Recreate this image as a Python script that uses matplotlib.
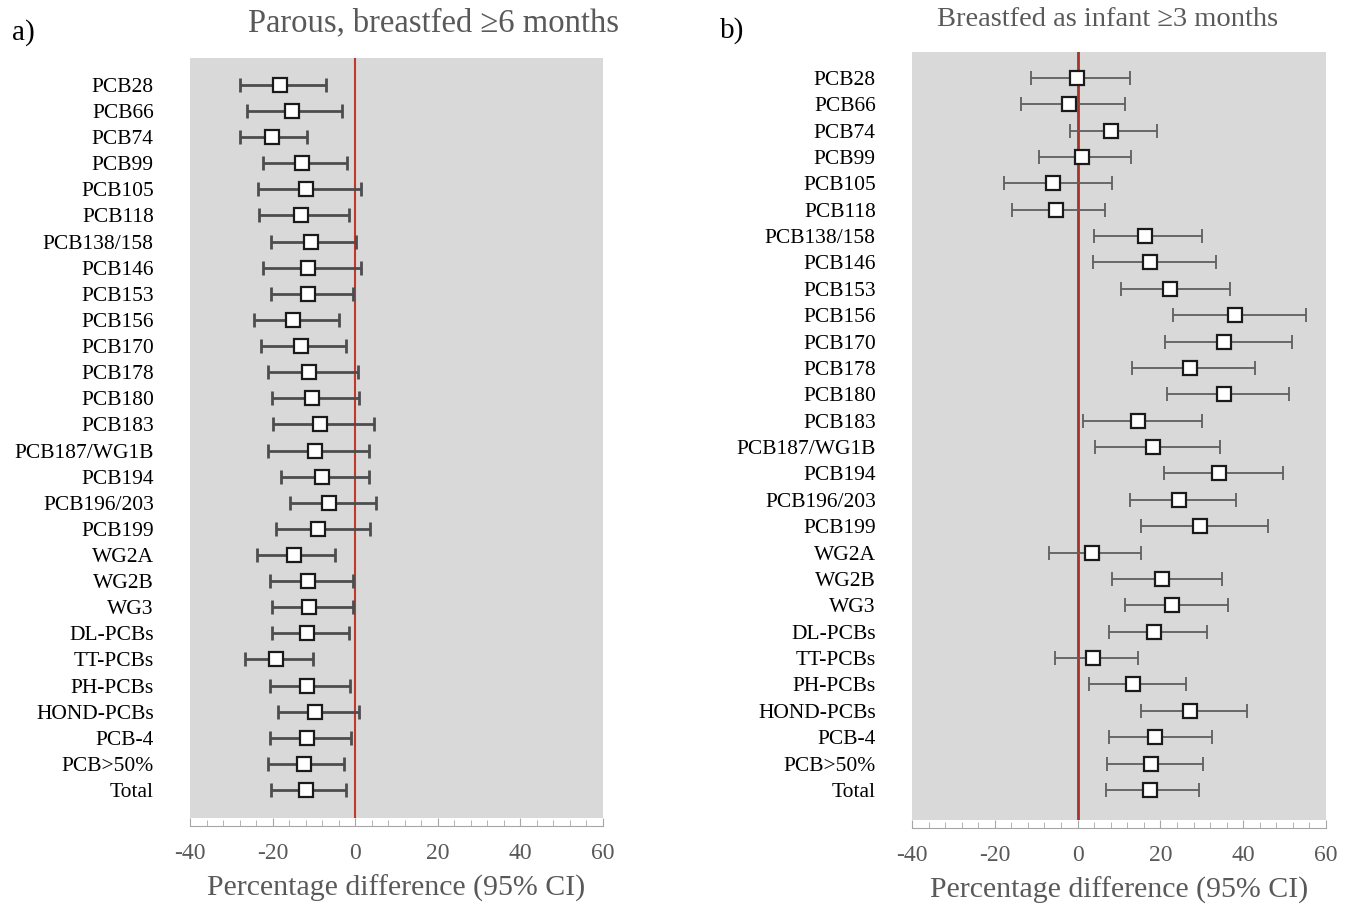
import matplotlib
matplotlib.use('Agg')
import matplotlib.pyplot as plt
from matplotlib.ticker import MultipleLocator

plt.rcParams['font.family'] = ['Liberation Serif', 'DejaVu Serif']
plt.rcParams['axes.unicode_minus'] = False

labels = ['PCB28', 'PCB66', 'PCB74', 'PCB99', 'PCB105', 'PCB118', 'PCB138/158',
          'PCB146', 'PCB153', 'PCB156', 'PCB170', 'PCB178', 'PCB180', 'PCB183',
          'PCB187/WG1B', 'PCB194', 'PCB196/203', 'PCB199', 'WG2A', 'WG2B', 'WG3',
          'DL-PCBs', 'TT-PCBs', 'PH-PCBs', 'HOND-PCBs', 'PCB-4', 'PCB>50%', 'Total']

# a) Parous, breastfed >=6 months
a_est = [-18.3, -15.3, -20.1, -12.9, -12.0, -13.2, -10.7, -11.4, -11.4, -15.1,
         -13.2, -11.1, -10.4, -8.6, -9.8, -8.0, -6.4, -8.9, -14.8, -11.4,
         -11.1, -11.7, -19.2, -11.7, -9.8, -11.7, -12.3, -12.0]
a_lo = [-28.0, -26.1, -28.0, -22.4, -23.6, -23.2, -20.4, -22.4, -20.4, -24.6,
        -22.9, -21.1, -20.1, -19.8, -21.1, -18.0, -15.7, -19.1, -23.8, -20.7,
        -20.1, -20.1, -26.7, -20.7, -18.6, -20.7, -21.1, -20.4]
a_hi = [-7.0, -3.1, -11.7, -1.9, 1.5, -1.6, 0.2, 1.5, -0.6, -3.9,
        -2.3, 0.6, 0.9, 4.6, 3.4, 3.4, 5.1, 3.7, -4.8, -0.6,
        -0.6, -1.6, -10.3, -1.3, 0.9, -1.0, -2.6, -2.3]

# b) Breastfed as infant >=3 months
b_est = [-0.1, -2.1, 8.0, 1.0, -6.0, -5.2, 16.2, 17.4, 22.4, 38.1,
         35.3, 27.1, 35.3, 14.6, 18.2, 34.1, 24.4, 29.5, 3.4, 20.5,
         22.8, 18.4, 3.7, 13.4, 27.1, 18.8, 17.8, 17.4]
b_lo = [-11.2, -13.6, -1.9, -9.3, -17.8, -15.9, 3.9, 3.6, 10.5, 23.0,
        21.1, 13.2, 21.6, 1.3, 4.3, 20.8, 12.6, 15.2, -7.0, 8.3,
        11.4, 7.5, -5.4, 2.7, 15.2, 7.5, 7.2, 6.8]
b_hi = [12.6, 11.4, 19.2, 13.0, 8.3, 6.7, 30.1, 33.5, 36.7, 55.1,
        51.9, 42.9, 51.0, 30.0, 34.5, 49.6, 38.3, 46.1, 15.2, 34.8,
        36.4, 31.2, 14.5, 26.1, 41.0, 32.4, 30.4, 29.3]

W, H = 1355, 906
fig = plt.figure(figsize=(W / 100, H / 100), dpi=100)
fig.patch.set_facecolor('white')

grey = '#595959'


def forest(rect, est, lo, hi, ylim, bar_color, bar_lw, line_color, line_lw):
    ax = fig.add_axes(rect)
    ax.set_facecolor('#d9d9d9')
    y = list(range(len(labels)))
    xerr = [[e - l for e, l in zip(est, lo)], [h - e for e, h in zip(est, hi)]]
    ax.axvline(0, color=line_color, lw=line_lw, zorder=2)
    ax.errorbar(est, y, xerr=xerr, fmt='none', ecolor=bar_color, elinewidth=bar_lw,
                capsize=5, capthick=bar_lw, zorder=3)
    ax.plot(est, y, 's', ms=9.5, mfc='white', mec='#1a1a1a', mew=1.6, zorder=4)
    ax.set_xlim(-40, 60)
    ax.set_ylim(*ylim)
    ax.set_yticks(y)
    ax.set_yticklabels(labels, fontsize=15.5)
    ax.tick_params(axis='y', length=0, pad=26)
    ax.xaxis.set_major_locator(MultipleLocator(20))
    ax.xaxis.set_minor_locator(MultipleLocator(4))
    ax.tick_params(axis='x', which='major', direction='in', length=6, color='#a6a6a6',
                   labelsize=17, labelcolor=grey, pad=12)
    ax.tick_params(axis='x', which='minor', direction='in', length=4, color='#a6a6a6')
    for s in ['top', 'right', 'left']:
        ax.spines[s].set_visible(False)
    ax.spines['bottom'].set_position(('outward', 6))
    ax.spines['bottom'].set_color('#a6a6a6')
    ax.set_xlabel('Percentage difference (95% CI)', fontsize=21.5, color=grey, labelpad=8)
    return ax


ax1 = forest([190 / W, 1 - 818 / H, 413 / W, 760 / H], a_est, a_lo, a_hi,
             (28.07, -1.03), '#4d4d4d', 2.0, '#c0392b', 1.5)
ax2 = forest([912 / W, 1 - 820 / H, 414 / W, 768 / H], b_est, b_lo, b_hi,
             (28.14, -0.98), '#5f5f5f', 1.3, '#a93226', 2.0)

fig.text(12 / W, 1 - 33 / H, 'a)', fontsize=21, va='center', ha='left')
fig.text(720 / W, 1 - 31 / H, 'b)', fontsize=21, va='center', ha='left')
fig.text(433 / W, 1 - 23 / H, 'Parous, breastfed \u22656 months', fontsize=23.5,
         color=grey, ha='center', va='center')
fig.text(1108 / W, 1 - 20 / H, 'Breastfed as infant \u22653 months', fontsize=20.5,
         color=grey, ha='center', va='center')

fig.savefig('out.png', dpi=100, facecolor='white')
